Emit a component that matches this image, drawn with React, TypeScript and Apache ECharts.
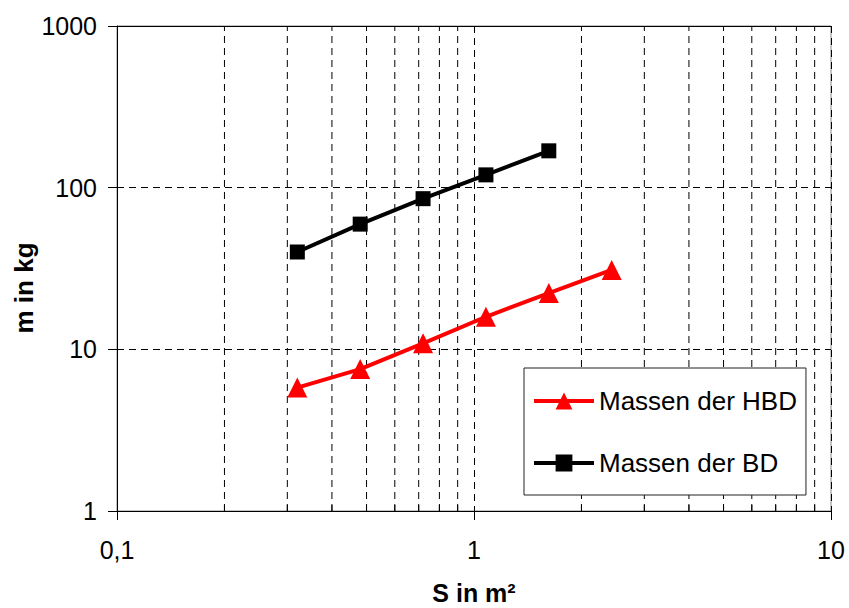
import React, { useEffect, useRef } from "react";
import * as echarts from "echarts";

const areaBD: number[] = [0.32, 0.48, 0.72, 1.08, 1.62];
const massBD: number[] = [40, 59.5, 85.5, 120, 169];
const areaHBD: number[] = [0.32, 0.48, 0.72, 1.08, 1.62, 2.43];
const massHBD: number[] = [5.8, 7.55, 10.9, 15.9, 22.3, 31];
const minorX: number[] = [0.2, 0.3, 0.4, 0.5, 0.6, 0.7, 0.8, 0.9, 2, 3, 4, 5, 6, 7, 8, 9];
const seriesNames: string[] = ["Massen der HBD", "Massen der BD"];
const xTitle = "S in m²";
const yTitle = "m in kg";

const FONT = "'Liberation Sans', Arial, Helvetica, sans-serif";

export default function App() {
  const ref = useRef<HTMLDivElement>(null);
  useEffect(() => {
    if (!ref.current) return;
    const chart = echarts.init(ref.current, null, { renderer: "svg" });
    const dash = [7, 5];
    chart.setOption({
      animation: false,
      backgroundColor: "#fff",
      textStyle: { fontFamily: FONT },
      grid: {
        left: 117,
        right: 18,
        top: 26,
        bottom: 97,
        show: true,
        borderColor: "#888",
        borderWidth: 1,
        backgroundColor: "transparent",
      },
      xAxis: [
        {
          type: "log",
          logBase: 10,
          min: 0.1,
          max: 10,
          axisLine: { show: true, lineStyle: { color: "#000", width: 1 } },
          axisTick: { show: true, inside: false, length: 9, lineStyle: { color: "#000" } },
          axisLabel: {
            color: "#000",
            fontSize: 25,
            fontFamily: FONT,
            margin: 26,
            formatter: (v: number) => String(v).replace(".", ","),
          },
          splitLine: { show: true, lineStyle: { color: "#000", type: dash, width: 1 } },
          minorTick: { show: false },
        },
        {
          type: "log",
          logBase: 10,
          min: 0.1,
          max: 10,
          position: "top",
          axisLine: { show: true, lineStyle: { color: "#000", width: 1 } },
          axisTick: { show: false },
          axisLabel: { show: false },
          splitLine: { show: false },
        },
      ],
      yAxis: {
        type: "log",
        logBase: 10,
        min: 1,
        max: 1000,
        axisLine: { show: true, lineStyle: { color: "#000", width: 1 } },
        axisTick: { show: true, inside: false, length: 9, lineStyle: { color: "#000" } },
        axisLabel: {
          color: "#000",
          fontSize: 25,
          fontFamily: FONT,
          margin: 20,
          formatter: (v: number) => String(Math.round(v)),
        },
        splitLine: { show: true, lineStyle: { color: "#000", type: dash, width: 1 } },
      },
      legend: {
        data: seriesNames,
        orient: "vertical",
        left: 524,
        top: 368,
        padding: [19, 9, 18, 8],
        itemGap: 34,
        itemWidth: 60,
        itemHeight: 21,
        backgroundColor: "#fff",
        borderColor: "#222",
        borderWidth: 1,
        borderRadius: 0,
        lineStyle: { width: 4 },
        textStyle: { color: "#000", fontSize: 26, fontFamily: FONT, lineHeight: 28 },
      },
      graphic: [
        {
          type: "text",
          x: 474,
          y: 593,
          style: {
            text: xTitle,
            fontSize: 25,
            fontWeight: "bold",
            fontFamily: FONT,
            fill: "#000",
            align: "center",
            verticalAlign: "middle",
          },
        },
        {
          type: "text",
          x: 24,
          y: 288,
          rotation: Math.PI / 2,
          style: {
            text: yTitle,
            fontSize: 26,
            fontWeight: "bold",
            fontFamily: FONT,
            fill: "#000",
            align: "center",
            verticalAlign: "middle",
          },
        },
      ],
      series: [
        {
          type: "custom",
          name: "minor",
          silent: true,
          clip: false,
          z: 1,
          data: minorX.map((v) => [v, 1]),
          renderItem: (_p: any, api: any) => {
            const v = api.value(0);
            const b = api.coord([v, 1]);
            const t = api.coord([v, 1000]);
            return {
              type: "group",
              children: [
                {
                  type: "line",
                  shape: { x1: b[0], y1: b[1], x2: t[0], y2: t[1] },
                  style: { stroke: "#000", lineWidth: 1, lineDash: dash },
                },
                {
                  type: "line",
                  shape: { x1: b[0], y1: b[1], x2: b[0], y2: b[1] - 6 },
                  style: { stroke: "#000", lineWidth: 1 },
                },
              ],
            };
          },
        },
        {
          type: "line",
          name: seriesNames[0],
          data: areaHBD.map((x, i) => [x, massHBD[i]]),
          symbol: "triangle",
          symbolSize: 20,
          z: 5,
          lineStyle: { color: "#ff0000", width: 4 },
          itemStyle: { color: "#ff0000" },
        },
        {
          type: "line",
          name: seriesNames[1],
          data: areaBD.map((x, i) => [x, massBD[i]]),
          symbol: "rect",
          symbolSize: 15,
          z: 5,
          lineStyle: { color: "#000", width: 4 },
          itemStyle: { color: "#000" },
        },
      ],
    });
    return () => chart.dispose();
  }, []);
  return <div ref={ref} style={{ width: 849, height: 608, position: "absolute", left: 0, top: 0 }} />;
}
